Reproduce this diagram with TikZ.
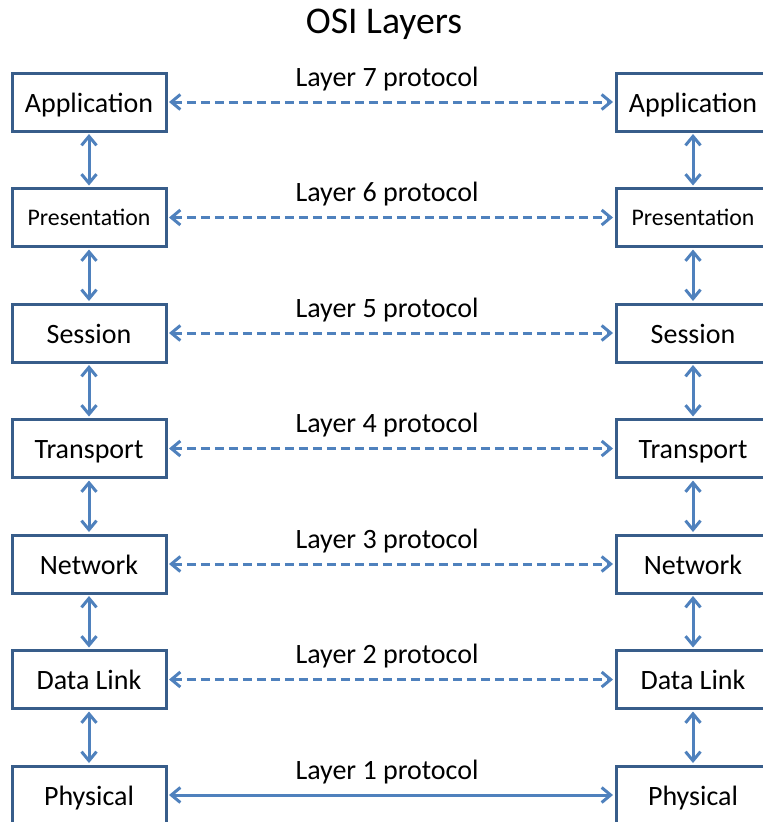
\documentclass[tikz,border=0pt]{standalone}
\usepackage{fontspec}
\setmainfont{Carlito}
\usetikzlibrary{arrows.meta}
\definecolor{linkblue}{HTML}{4F81BD}
\definecolor{boxblue}{HTML}{385D8A}
\tikzset{
  layer/.style={draw=boxblue, line width=3pt, fill=white, minimum width=154pt,
    minimum height=58pt, inner sep=0pt, text height=20pt, text depth=0pt,
    font=\fontsize{28}{32}\selectfont},
  normtext/.style={},
  smalltext/.style={font=\fontsize{23.8}{28}\selectfont, text height=16pt},
  link/.style={linkblue, line width=3pt, shorten <=1.5pt, shorten >=1.5pt,
    {Straight Barb[length=9pt,width=15pt]}-{Straight Barb[length=9pt,width=15pt]}},
  peer/.style={link, dash pattern=on 9pt off 5pt},
  proto/.style={font=\fontsize{28}{32}\selectfont, anchor=base, inner sep=0pt},
  heading/.style={font=\fontsize{37.7}{42}\selectfont, anchor=base, inner sep=0pt}
}
\begin{document}
\begin{tikzpicture}[x=1pt,y=-1pt]
  \useasboundingbox (0,0) rectangle (763,822);
  \clip (0,0) rectangle (763,822);
  \node[heading] (title) at (384,33) {OSI Layers};
  % the two stacks of layers, top (k=0) to bottom (k=6)
  \foreach [count=\k from 0] \name/\sty/\lk in {Application/normtext/peer,
      Presentation/smalltext/peer, Session/normtext/peer, Transport/normtext/peer,
      Network/normtext/peer, Data Link/normtext/peer, Physical/normtext/link} {
    \pgfmathsetmacro\yc{102+115.5*\k}
    \pgfmathtruncatemacro\n{7-\k}
    \node[layer,\sty] (L\k) at (89,\yc) {\name};
    \node[layer,\sty] (R\k) at (693,\yc) {\name};
    \node[proto] (P\k) at (387,\yc-16) {Layer \n\ protocol};
    \draw[\lk] (L\k) -- (R\k);
  }
  % links between adjacent layers of each stack
  \foreach \k in {0,...,5} {
    \pgfmathtruncatemacro\m{\k+1}
    \draw[link] (L\k) -- (L\m);
    \draw[link] (R\k) -- (R\m);
  }
\end{tikzpicture}
\end{document}
